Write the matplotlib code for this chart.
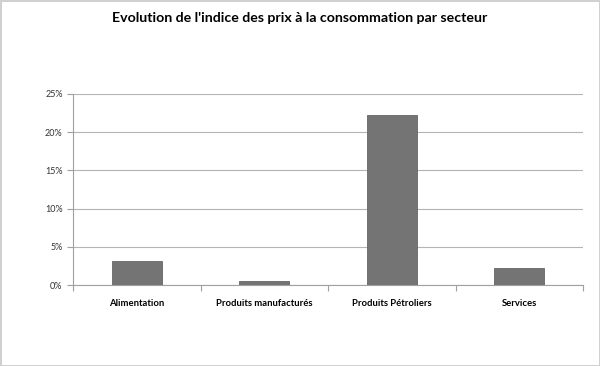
import matplotlib.pyplot as plt
import numpy as np
from matplotlib.ticker import FuncFormatter

# Données du graphique
secteurs = ["Alimentation", "Produits manufacturés", "Produits Pétroliers", "Services"]
evolution = [3.2, 0.5, 22.2, 2.2]  # en %
y_ticks = [0, 5, 10, 15, 20, 25]

fig = plt.figure(figsize=(6, 3.66), dpi=100)
fig.patch.set_edgecolor("#d0d0d0")
fig.patch.set_linewidth(2)
ax = fig.add_axes([0.1217, 0.2213, 0.85, 0.5219])

x = np.arange(len(secteurs))
ax.bar(x, evolution, width=0.39, color="#747474", edgecolor="#666666", linewidth=0.6, zorder=3)

ax.set_xlim(-0.5, len(secteurs) - 0.5)
ax.set_ylim(0, 25)
ax.set_yticks(y_ticks)
ax.yaxis.set_major_formatter(FuncFormatter(lambda v, p: f"{v:.0f}%"))
ax.grid(axis="y", color="#b4b4b4", linewidth=0.8, zorder=0)

# graduations entre les catégories
ax.set_xticks(np.arange(-0.5, len(secteurs), 1.0), minor=False)
ax.set_xticklabels([])
ax.set_xticks(x, minor=True)
ax.set_xticklabels(secteurs, minor=True, fontweight="bold", fontsize=6.8, family="Lato")
ax.tick_params(axis="x", which="minor", length=0, pad=10)
ax.tick_params(axis="x", which="major", length=4, color="#a0a0a0", width=0.8)
ax.tick_params(axis="y", length=4, color="#a0a0a0", width=0.8, labelsize=6.5,
               labelcolor="#333333")
for lbl in ax.get_yticklabels():
    lbl.set_family("Lato")

for s in ["top", "right"]:
    ax.spines[s].set_visible(False)
ax.spines["left"].set_color("#a0a0a0")
ax.spines["bottom"].set_color("#a0a0a0")

fig.text(0.5, 0.95, "Evolution de l'indice des prix à la consommation par secteur",
         ha="center", va="center", fontsize=10.2, fontweight="bold", family="Lato")

plt.savefig("out.png", dpi=100)
